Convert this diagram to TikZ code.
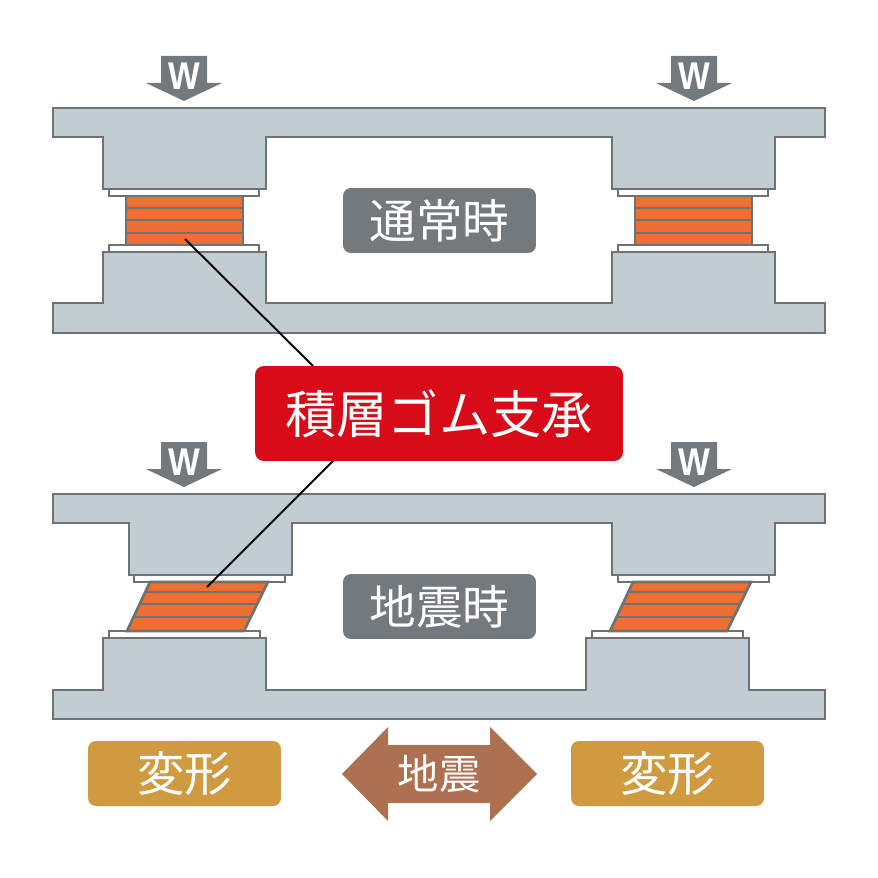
\documentclass[tikz,border=0pt]{standalone}
\usepackage{fontspec}
\setmainfont{Noto Sans CJK JP}
\newfontfamily\wfont{Liberation Sans}
\usepackage{xcolor}
\usetikzlibrary{calc}
\definecolor{slab}{HTML}{C1CCD3}
\definecolor{edge}{HTML}{6E7275}
\definecolor{rubber}{HTML}{EE6F30}
\definecolor{tag}{HTML}{74797D}
\definecolor{callout}{HTML}{D80C18}
\definecolor{gold}{HTML}{D09A40}
\definecolor{quake}{HTML}{AD7050}
\tikzset{
  concrete/.style={draw=edge,fill=slab,line width=1.4pt,line join=miter},
  plate/.style={draw=edge,fill=white,line width=1.2pt},
  layer/.style={draw=edge,line width=1.5pt},
  tagbox/.style={fill=#1,rounded corners=4.5pt,text=white,inner sep=0pt,minimum width=3.86cm,minimum height=1.3cm,font=\fontsize{27}{27}\selectfont},
  load/.style={fill=tag,draw=none},
  leader/.style={draw=black,line width=1.1pt}
}
\begin{document}
\begin{tikzpicture}[x=0.02cm,y=-0.02cm]
  \useasboundingbox (0,0) rectangle (878,878);
  \fill[white] (0,0) rectangle (878,878);
  % upper frame, normal state
  \draw[concrete] (53,108)--(825,108)--(825,137)--(775,137)--(775,189)--(612,189)--(612,137)--(266,137)--(266,189)--(103,189)--(103,137)--(53,137)--cycle;
  \draw[concrete] (53,333)--(825,333)--(825,303)--(775,303)--(775,252)--(612,252)--(612,303)--(266,303)--(266,252)--(103,252)--(103,303)--(53,303)--cycle;
  \foreach \xa in {109,618} {
    \draw[plate] (\xa,189) rectangle (\xa+150,196);
    \draw[plate] (\xa,245) rectangle (\xa+150,252);
    \draw[layer,fill=rubber] (\xa+17,196) rectangle (\xa+134,245);
    \foreach \ya in {208,220,233} \draw[layer] (\xa+17,\ya)--(\xa+134,\ya);
  }
  % lower frame, displaced state
  \draw[concrete] (53,494)--(825,494)--(825,523)--(775,523)--(775,575)--(612,575)--(612,523)--(292,523)--(292,575)--(129,575)--(129,523)--(53,523)--cycle;
  \draw[concrete] (53,719)--(825,719)--(825,690)--(749,690)--(749,638)--(586,638)--(586,690)--(266,690)--(266,638)--(103,638)--(103,690)--(53,690)--cycle;
  \foreach \xb/\xc in {127/134,610/618} {
    \draw[plate] (\xc,575) rectangle (\xc+151,582);
    \draw[plate] (\xb-18,631) rectangle (\xb+133,638);
    \draw[layer,fill=rubber] (\xb,631)--(\xb+23,582)--(\xb+141,582)--(\xb+117,631)--cycle;
    \draw[layer] (\xb+18.5,592)--(\xb+136,592);
    \draw[layer] (\xb+12.5,604)--(\xb+130,604);
    \draw[layer] (\xb+6.5,617)--(\xb+124,617);
  }
  % loads
  \foreach \xw/\yw [count=\i] in {184/56,694/56,184/442,694/442} {
    \fill[load] (\xw-23,\yw)--(\xw+23,\yw)--(\xw+23,\yw+27)--(\xw+38,\yw+27)--(\xw,\yw+45)--(\xw-38,\yw+27)--(\xw-23,\yw+27)--cycle;
    \node[text=white,inner sep=0pt,xscale=0.87,font=\wfont\bfseries\fontsize{22}{22}\selectfont] (w\i) at (\xw+0.5,\yw+20) {W};
  }
  % labels
  \node[tagbox=tag,font=\fontsize{26.5}{26.5}\selectfont] (normal) at (439.5,220.5) {通常時};
  \node[tagbox=tag,font=\fontsize{26.5}{26.5}\selectfont] (quaketag) at (439.5,606.5) {地震時};
  \node[tagbox=gold] (defa) at (184.5,773.5) {変形};
  \node[tagbox=gold] (defb) at (667.5,773.5) {変形};
  \coordinate (tipa) at (185,239);
  \coordinate (tipb) at (207,587);
  \coordinate (enda) at (313,366);
  \coordinate (endb) at (333,461);
  \draw[leader] (tipa)--(enda);
  \draw[leader] (tipb)--(endb);
  \node[fill=callout,rounded corners=5pt,text=white,inner sep=0pt,minimum width=7.36cm,minimum height=1.9cm,font=\fontsize{29.2}{29.2}\selectfont] (bearing) at (439,413.5) {積層ゴム支承};
  % shaking direction
  \fill[quake] (342,774)--(388,727)--(388,745)--(490,745)--(490,727)--(537,774)--(490,821)--(490,803)--(388,803)--(388,821)--cycle;
  \node[text=white,inner sep=0pt,font=\fontsize{23.5}{23.5}\selectfont] (shake) at (439,774) {地震};
\end{tikzpicture}
\end{document}
